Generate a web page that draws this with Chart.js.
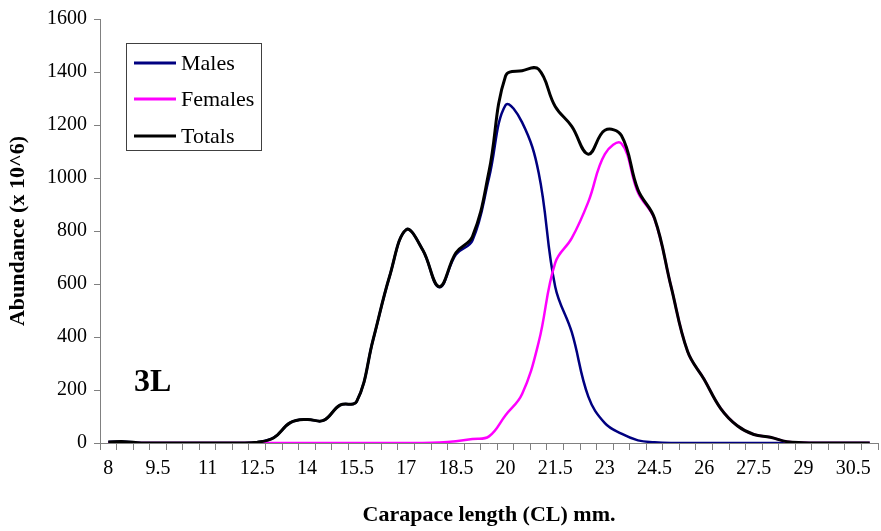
<!DOCTYPE html>
<html>
<head>
<meta charset="utf-8">
<script src="https://cdn.jsdelivr.net/npm/chart.js@4.4.1/dist/chart.umd.min.js"></script>
<style>
  body { margin: 0; background: #fff; }
  #wrap { width: 881px; height: 531px; }
</style>
</head>
<body>
<div id="wrap"><canvas id="cohortChart" width="881" height="531"></canvas></div>
<script>
// Carapace length classes (mm), 0.5 mm steps
const lengths = ['8', '8.5', '9', '9.5', '10', '10.5', '11', '11.5', '12', '12.5',
  '13', '13.5', '14', '14.5', '15', '15.5', '16', '16.5', '17', '17.5',
  '18', '18.5', '19', '19.5', '20', '20.5', '21', '21.5', '22', '22.5',
  '23', '23.5', '24', '24.5', '25', '25.5', '26', '26.5', '27', '27.5',
  '28', '28.5', '29', '29.5', '30', '30.5', '31'];

// Abundance (x 10^6)
const males = [4, 5, 0, 0, 0, 0, 0, 0, 0, 3,
  20, 77, 89, 85, 143, 156, 390, 630, 805, 728,
  588, 711, 764, 1000, 1275, 1210, 1020, 590, 418, 175,
  75, 35, 10, 3, 0, 0, 0, 0, 0, 0,
  0, 0, 0, 0, 0, 0, 0];
const females = [0, 0, 0, 0, 0, 0, 0, 0, 0, 0,
  0, 0, 0, 0, 0, 0, 0, 0, 0, 0,
  2, 7, 15, 25, 105, 185, 380, 680, 773, 910,
  1090, 1130, 945, 845, 590, 345, 240, 130, 65, 32,
  22, 5, 1, 0, 0, 0, 0];
const totals = [4, 5, 0, 0, 0, 0, 0, 0, 0, 3,
  20, 77, 89, 85, 143, 156, 390, 630, 805, 728,
  590, 718, 779, 1025, 1385, 1405, 1410, 1270, 1195, 1090,
  1180, 1160, 955, 848, 590, 345, 240, 130, 65, 32,
  22, 5, 1, 0, 0, 0, 0];

const yTicks = [0, 200, 400, 600, 800, 1000, 1200, 1400, 1600];
const stockLabel = '3L';

const serif = "'Liberation Serif', 'Times New Roman', serif";
const axisGrey = '#808080';

// legend drawn inside the plot, boxed, like the original
const boxLegend = {
  id: 'boxLegend',
  afterDraw(chart) {
    const ctx = chart.ctx;
    ctx.save();
    ctx.strokeStyle = '#404040';
    ctx.lineWidth = 1;
    ctx.strokeRect(126.5, 43.5, 135, 107);
    ctx.font = '22px ' + serif;
    ctx.textBaseline = 'middle';
    ctx.fillStyle = '#000';
    const rows = [63, 99, 136];
    chart.data.datasets.forEach((ds, i) => {
      ctx.strokeStyle = ds.borderColor;
      ctx.lineWidth = 3;
      ctx.beginPath();
      ctx.moveTo(134, rows[i]);
      ctx.lineTo(176, rows[i]);
      ctx.stroke();
      ctx.fillText(ds.label, 181, rows[i] + 1);
    });
    // stock area label
    ctx.font = 'bold 32px ' + serif;
    ctx.textBaseline = 'alphabetic';
    ctx.fillText(stockLabel, 134, 391);
    ctx.restore();
  }
};

const ctx = document.getElementById('cohortChart').getContext('2d');
const cohortChart = new Chart(ctx, {
  type: 'line',
  data: {
    labels: lengths,
    datasets: [{
      label: 'Males',
      data: males,
      borderColor: '#000080',
      borderWidth: 2.5,
      order: 2
    }, {
      label: 'Females',
      data: females,
      borderColor: '#ff00ff',
      borderWidth: 2.5,
      order: 1
    }, {
      label: 'Totals',
      data: totals,
      borderColor: '#000000',
      borderWidth: 3,
      order: 0
    }]
  },
  options: {
    responsive: false,
    animation: false,
    elements: {
      point: { radius: 0 },
      line: { tension: 0.4, fill: false }
    },
    layout: { padding: { top: 19, right: 3, left: 0, bottom: 0 } },
    plugins: {
      legend: { display: false },
      tooltip: { enabled: false }
    },
    scales: {
      x: {
        type: 'category',
        offset: true,
        grid: { display: true, offset: true, drawOnChartArea: false, tickLength: 7, color: axisGrey },
        border: { display: true, color: axisGrey, width: 1 },
        ticks: {
          autoSkip: false,
          maxRotation: 0,
          padding: 7,
          color: '#000',
          font: { family: serif, size: 20 },
          callback: function (value, index) {
            return index % 3 === 0 ? lengths[index] : '';
          }
        },
        title: {
          display: true,
          text: 'Carapace length (CL) mm.',
          color: '#000',
          font: { family: serif, size: 22, weight: 'bold' },
          padding: { top: 0, bottom: 2 }
        },
        afterFit: function (scale) { scale.height = 88; }
      },
      y: {
        min: 0,
        max: 1600,
        afterBuildTicks: function (scale) {
          scale.ticks = yTicks.map(v => ({ value: v }));
        },
        grid: { display: true, drawOnChartArea: false, tickLength: 6, color: axisGrey },
        border: { display: true, color: axisGrey, width: 1 },
        ticks: {
          padding: 7,
          color: '#000',
          font: { family: serif, size: 20 },
          callback: function (value) { return String(value); }
        },
        title: {
          display: true,
          text: 'Abundance (x 10^6)',
          color: '#000',
          font: { family: serif, size: 22, weight: 'bold' },
          padding: { top: 5, bottom: 0 }
        },
        afterFit: function (scale) { scale.width = 100; }
      }
    }
  },
  plugins: [boxLegend]
});
</script>
</body>
</html>
